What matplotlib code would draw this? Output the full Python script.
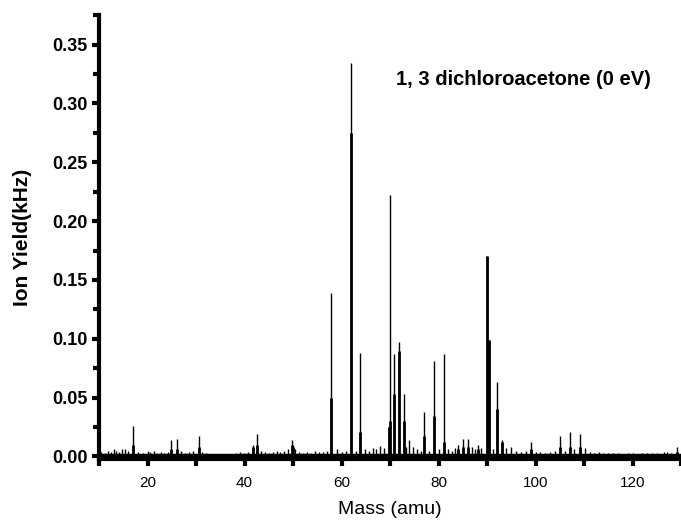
import numpy as np
import matplotlib.pyplot as plt
from matplotlib.ticker import MultipleLocator

plt.rcParams['font.family'] = ['Liberation Sans', 'DejaVu Sans']

# main peaks: mass, tip height, height of the thick lower part
peak_mass = [16.97, 24.9, 26.0, 30.6, 41.8, 42.6, 49.7, 50.1, 57.9, 62.0, 63.9,
             69.75, 70.0, 70.9, 71.9, 72.8, 77.1, 79.0, 81.1, 84.1, 85.1, 86.0,
             88.2, 89.9, 90.4, 92.1, 93.1, 99.0, 105.0, 107.2, 109.1, 129.2]
peak_top = [0.026, 0.014, 0.0145, 0.017, 0.010, 0.019, 0.014, 0.010, 0.139, 0.334, 0.088,
            0.025, 0.222, 0.087, 0.097, 0.053, 0.038, 0.081, 0.087, 0.010, 0.015, 0.015,
            0.010, 0.170, 0.099, 0.063, 0.014, 0.012, 0.017, 0.021, 0.019, 0.008]
peak_body = [0.010, 0.006, 0.006, 0.008, 0.008, 0.010, 0.010, 0.008, 0.050, 0.275, 0.021,
             0.025, 0.030, 0.053, 0.090, 0.030, 0.017, 0.034, 0.012, 0.006, 0.008, 0.008,
             0.006, 0.170, 0.099, 0.040, 0.012, 0.006, 0.008, 0.008, 0.008, 0.004]

# small baseline peaks
noise_mass = [10.5, 11.2, 11.8, 12.4, 13.0, 13.6, 14.1, 14.7, 15.3, 15.9, 18.0, 19.0,
              20.1, 20.6, 21.3, 22.0, 22.8, 23.5, 24.2, 27.0, 27.8, 28.6, 29.3, 31.3,
              32.0, 32.7, 38.3, 39.1, 39.9, 40.7, 43.4, 44.2, 45.0, 45.8, 46.6, 47.4,
              48.2, 48.9, 50.5, 51.2, 52.0, 52.9, 53.7, 54.5, 55.3, 56.2, 57.0, 59.0,
              60.0, 61.0, 62.9, 64.8, 65.6, 66.4, 67.2, 68.0, 68.8, 73.4, 74.0, 74.8,
              75.6, 76.3, 78.0, 80.0, 82.0, 82.8, 83.5, 87.0, 87.6, 88.8, 91.2, 94.0,
              95.0, 96.0, 97.0, 98.0, 100.0, 101.0, 102.0, 103.0, 104.0, 106.0, 108.0,
              110.3, 111.2, 112.0, 113.0, 114.0, 115.0, 116.0, 117.0, 118.0, 119.0, 120.0,
              121.0, 122.0, 123.0, 124.0, 125.0, 126.4, 127.2, 128.0]
noise_height = [0.004, 0.003, 0.005, 0.004, 0.006, 0.005, 0.004, 0.006, 0.006, 0.005, 0.004, 0.003,
                0.005, 0.004, 0.005, 0.003, 0.004, 0.003, 0.004, 0.005, 0.003, 0.004, 0.005, 0.004,
                0.003, 0.002, 0.003, 0.004, 0.003, 0.004, 0.005, 0.004, 0.003, 0.004, 0.005, 0.004,
                0.005, 0.006, 0.006, 0.004, 0.003, 0.004, 0.003, 0.005, 0.004, 0.004, 0.005, 0.006,
                0.004, 0.005, 0.005, 0.006, 0.005, 0.007, 0.006, 0.009, 0.007, 0.008, 0.014, 0.008,
                0.006, 0.005, 0.005, 0.006, 0.006, 0.005, 0.007, 0.008, 0.006, 0.007, 0.006, 0.007,
                0.008, 0.005, 0.004, 0.005, 0.004, 0.004, 0.003, 0.004, 0.005, 0.005, 0.006,
                0.007, 0.004, 0.003, 0.004, 0.003, 0.003, 0.003, 0.003, 0.002, 0.003, 0.003,
                0.002, 0.003, 0.003, 0.003, 0.003, 0.004, 0.004, 0.003]

label = '1, 3 dichloroacetone (0 eV)'

fig = plt.figure(figsize=(6.81, 5.25), dpi=100)
ax = fig.add_axes([0.1454, 0.126, 0.8546, 0.845])

ax.vlines(noise_mass, 0, noise_height, color='black', lw=1.0)
ax.vlines(peak_mass, 0, peak_top, color='black', lw=1.0)
ax.vlines(peak_mass, 0, peak_body, color='black', lw=2.0)
ax.axhline(0.0012, color='black', lw=2.5)

ax.set_xlim(10, 130)
ax.set_ylim(-0.002, 0.375)
ax.xaxis.set_major_locator(MultipleLocator(20))
ax.xaxis.set_minor_locator(MultipleLocator(10))
ax.yaxis.set_major_locator(MultipleLocator(0.05))
ax.yaxis.set_minor_locator(MultipleLocator(0.025))
ax.yaxis.set_major_formatter(plt.FormatStrFormatter('%.2f'))

for s in ['top', 'right']:
    ax.spines[s].set_visible(False)
for s in ['left', 'bottom']:
    ax.spines[s].set_linewidth(3)

ax.tick_params(axis='both', which='major', direction='out', length=5, width=3)
ax.tick_params(axis='both', which='minor', direction='out', length=5, width=3)
ax.tick_params(axis='y', which='minor', length=4)
ax.tick_params(axis='x', labelsize=11, pad=7)
ax.tick_params(axis='y', labelsize=13, pad=3)
for t in ax.get_yticklabels():
    t.set_fontweight('bold')

ax.set_xlabel('Mass (amu)', fontsize=14, labelpad=8)
ax.set_ylabel('Ion Yield(kHz)', fontsize=15, fontweight='bold', labelpad=15)

ax.text(71.3, 0.32, label, fontsize=14.5, fontweight='bold', va='center', ha='left')

fig.savefig('out.png', dpi=100)
